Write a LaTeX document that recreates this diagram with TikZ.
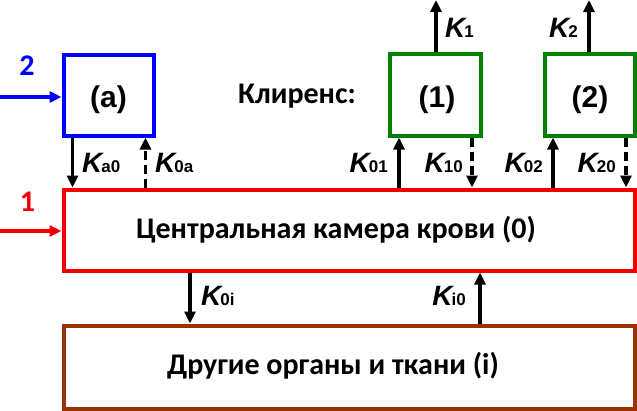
\documentclass[tikz,border=0pt]{standalone}
\usepackage{fontspec}
\setmainfont{Liberation Sans}
\newfontfamily\calfont{Carlito}
\usetikzlibrary{arrows.meta}
\definecolor{myred}{RGB}{240,0,0}
\definecolor{myblue}{RGB}{0,0,255}
\definecolor{mygreen}{RGB}{0,128,0}
\definecolor{mybrown}{RGB}{153,51,0}
\begin{document}
\begin{tikzpicture}[x=1pt,y=-1pt,
  box/.style={draw,line width=4pt,inner sep=0pt},
  flow/.style={line width=3.2pt,-{Triangle[length=12pt,width=11pt]}},
  dflow/.style={flow,dash pattern=on 9pt off 5pt},
  klab/.style={font=\fontsize{28}{28}\selectfont\bfseries\itshape,inner sep=0pt},
  lab/.style={font=\fontsize{30}{30}\selectfont\bfseries,inner sep=0pt,anchor=base},
  clab/.style={font=\calfont\fontsize{30}{30}\selectfont\bfseries,inner sep=0pt,anchor=base}]
\useasboundingbox (0,0) rectangle (637,410);
\newcommand{\sbs}[1]{\kern-1pt\textup{\fontsize{17}{17}\selectfont #1}}
% boxes
\node[box,draw=myblue,minimum width=90pt,minimum height=81pt] (a) at (108.5,95) {};
\node[lab] (ta) at (108.5,107) {(a)};
\node[box,draw=mygreen,minimum width=91pt,minimum height=82pt] (b1) at (435.5,94.5) {};
\node[lab] (t1) at (437,107) {(1)};
\node[box,draw=mygreen,minimum width=90pt,minimum height=82pt] (b2) at (589.5,94.5) {};
\node[lab] (t2) at (590,107) {(2)};
\node[box,draw=myred,minimum width=571pt,minimum height=81pt] (c) at (349,230) {};
\node[clab] (tc) at (336,238) {Центральная камера крови (0)};
\node[box,draw=mybrown,minimum width=571pt,minimum height=83pt] (o) at (349,367) {};
\node[clab] (to) at (333,374) {Другие органы и ткани (i)};
\node[clab] (kl) at (297,103) {Клиренс:};
% inputs
\node[clab,text=myblue] (n2) at (27,75) {2};
\node[clab,text=myred] (n1) at (27.5,211) {1};
\coordinate (s2) at (0,97);
\coordinate (s1) at (0,231);
\draw[flow,myblue] (s2) -- (s2-|a.west);
\draw[flow,myred] (s1) -- (s1-|c.west);
% a <-> c
\draw[flow] (72.5,0|-a.south) -- (72.5,0|-c.north);
\draw[dflow] (145.5,0|-c.north) -- (145.5,0|-a.south);
\node[klab,anchor=base west] (ka0) at (82,172) {K\sbs{a0}};
\node[klab,anchor=base west] (k0a) at (155,172) {K\sbs{0a}};
% 1 <-> c
\draw[flow] (399,0|-c.north) -- (399,0|-b1.south);
\draw[dflow] (472,0|-b1.south) -- (472,0|-c.north);
\node[klab,anchor=base east] (k01) at (388,172) {K\sbs{01}};
\node[klab,anchor=base east] (k10) at (463,172) {K\sbs{10}};
% 2 <-> c
\draw[flow] (553,0|-c.north) -- (553,0|-b2.south);
\draw[dflow] (626,0|-b2.south) -- (626,0|-c.north);
\node[klab,anchor=base east] (k02) at (543,172) {K\sbs{02}};
\node[klab,anchor=base east] (k20) at (616,172) {K\sbs{20}};
% outflows
\coordinate (e1) at (436,0);
\coordinate (e2) at (589,0);
\draw[flow] (e1|-b1.north) -- (e1);
\draw[flow] (e2|-b2.north) -- (e2);
\node[klab,anchor=base west] (k1) at (445,37) {K\sbs{1}};
\node[klab,anchor=base east] (k2) at (578,37) {K\sbs{2}};
% c <-> o
\draw[flow] (190,0|-c.south) -- (190,0|-o.north);
\draw[flow] (480,0|-o.north) -- (480,0|-c.south);
\node[klab,anchor=base west] (k0i) at (201,305) {K\sbs{0i}};
\node[klab,anchor=base east] (ki0) at (466,305) {K\sbs{i0}};
\end{tikzpicture}
\end{document}
